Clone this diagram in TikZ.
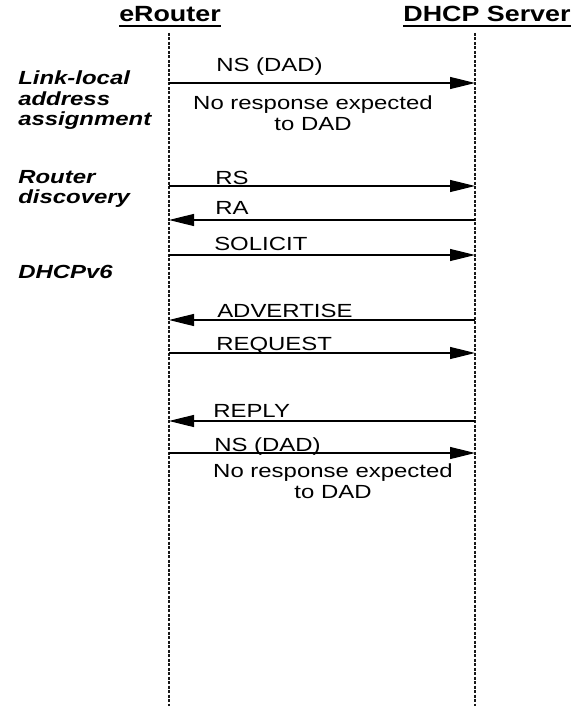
\documentclass[tikz,border=0pt]{standalone}
\usepackage{fontspec}
\setmainfont{Liberation Sans}
\usetikzlibrary{arrows.meta}

\begin{document}
\begin{tikzpicture}[x=1pt, y=-1pt,
lifeline/.style = { dash pattern = on 3pt off 1.5pt, line width = 1.4pt, color = black!90 },
msg/.style = { -{Triangle[length=25pt, width=12pt]}, line width = 1.2pt },
lbl/.style = { font = \fontsize{19}{21}\selectfont, xscale = 1.26, inner sep = 0pt, anchor = base west },
note/.style = { lbl, align = center, anchor = base },
phase/.style = { lbl, font = \fontsize{19}{20.5}\selectfont\bfseries\itshape, align = left },
head/.style = { font = \fontsize{22}{24}\selectfont\bfseries, xscale = 1.22, inner sep = 0pt, anchor = base }]
\fill[white] (0,0) rectangle (573,706);
\useasboundingbox (0,0) rectangle (573,706);
% headers
\node[head] (er) at (170,22) {eRouter};
\node[head] (ds) at (487,22) {DHCP Server};
\draw[line width = 1.5pt] ([yshift=-4pt]er.base west) -- ([yshift=-4pt]er.base east);
\draw[line width = 1.5pt] ([yshift=-4pt]ds.base west) -- ([yshift=-4pt]ds.base east);
% lifelines
\coordinate (eTop) at (169,33);
\coordinate (eBot) at (169,706);
\coordinate (dTop) at (475,33);
\coordinate (dBot) at (475,706);
\draw[lifeline] (eTop) -- (eBot);
\draw[lifeline] (dTop) -- (dBot);
% phases
\node[phase] (ll) at (18,125.5) {Link-local\\address\\assignment};
\node[phase] (rd) at (18,203.5) {Router\\discovery};
\node[phase] (d6) at (18,278) {DHCPv6};
% messages
\coordinate (e1) at (169,83);  \coordinate (d1) at (475,83);
\coordinate (e2) at (169,186); \coordinate (d2) at (475,186);
\coordinate (e3) at (169,220); \coordinate (d3) at (475,220);
\coordinate (e4) at (169,255); \coordinate (d4) at (475,255);
\coordinate (e5) at (169,320); \coordinate (d5) at (475,320);
\coordinate (e6) at (169,353); \coordinate (d6) at (475,353);
\coordinate (e7) at (169,421); \coordinate (d7) at (475,421);
\coordinate (e8) at (169,453); \coordinate (d8) at (475,453);
\draw[msg] (e1) -- (d1);
\draw[msg] (e2) -- (d2);
\draw[msg] (d3) -- (e3);
\draw[msg] (e4) -- (d4);
\draw[msg] (d5) -- (e5);
\draw[msg] (e6) -- (d6);
\draw[msg] (d7) -- (e7);
\draw[msg] (e8) -- (d8);
\node[lbl] (ns1) at (216,72) {NS (DAD)};
\node[note] (nr1) at (313,131) {No response expected\\to DAD};
\node[lbl] (rs) at (215,184) {RS};
\node[lbl] (ra) at (215,214.5) {RA};
\node[lbl] (sol) at (214,250.5) {SOLICIT};
\node[lbl] (adv) at (217,317.5) {ADVERTISE};
\node[lbl] (req) at (216,350.5) {REQUEST};
\node[lbl] (rep) at (213,417.5) {REPLY};
\node[lbl] (ns2) at (214,451) {NS (DAD)};
\node[note] (nr2) at (333,498) {No response expected\\to DAD};
\end{tikzpicture}
\end{document}
